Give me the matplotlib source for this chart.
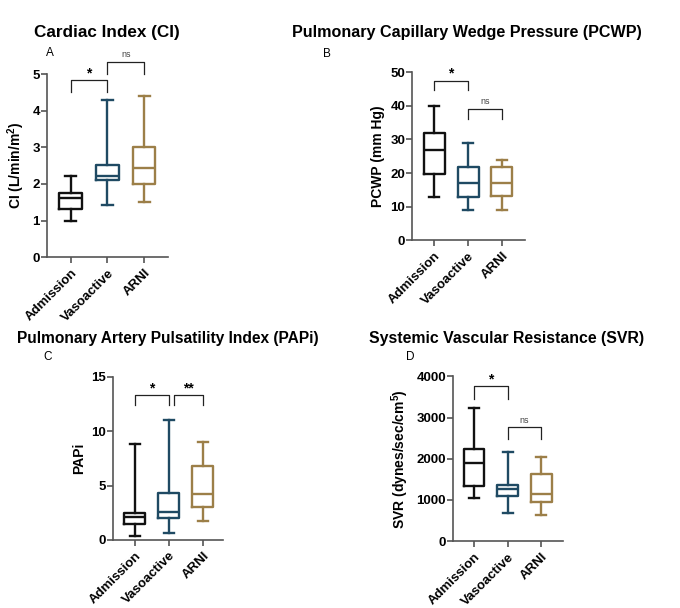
import matplotlib
matplotlib.use("Agg")
from matplotlib import pyplot as plt

plt.rcParams['font.family'] = ['Liberation Sans', 'DejaVu Sans']
plt.rcParams['font.weight'] = 'bold'
plt.rcParams['mathtext.fontset'] = 'custom'
plt.rcParams['mathtext.rm'] = 'Liberation Sans:bold'
plt.rcParams['mathtext.bf'] = 'Liberation Sans:bold'

groups = ["Admission", "Vasoactive", "ARNI"]
colors = ["#111111", "#1f4a63", "#9c7f48"]

# each list: [whisker low, q1, median, q3, whisker high] per group
ci_stats = [[1.0, 1.33, 1.61, 1.74, 2.22],
            [1.42, 2.1, 2.22, 2.51, 4.3],
            [1.5, 2.0, 2.44, 3.0, 4.4]]
pcwp_stats = [[13, 19.8, 27, 32, 40],
              [9, 13, 17, 21.8, 29],
              [9, 13.2, 17, 21.8, 24]]
papi_stats = [[0.37, 1.44, 2.08, 2.45, 8.85],
              [0.6, 2.05, 2.54, 4.35, 11.05],
              [1.78, 3.0, 4.22, 6.8, 9.0]]
svr_stats = [[1050, 1330, 1895, 2235, 3230],
             [690, 1085, 1270, 1360, 2155],
             [640, 940, 1135, 1620, 2040]]

# significance brackets: (x start, x end, top y, tick bottom y, label)
ci_sig = [(1, 2, 4.84, 4.5, "*"), (2, 3, 5.34, 5.0, "ns")]
pcwp_sig = [(1, 2, 47.5, 44.6, "*"), (2, 3, 39.1, 36.1, "ns")]
papi_sig = [(1, 2, 13.3, 12.4, "*"), (2.15, 3, 13.3, 12.4, "**")]
svr_sig = [(1, 2, 3765, 3457, "*"), (2, 3, 2761, 2470, "ns")]


def draw_panel(fig, rect, stats, sig, ylim, yticks, ylabel, xlim):
    ax = fig.add_axes(rect)
    for i, s in enumerate(stats):
        d = dict(whislo=s[0], q1=s[1], med=s[2], q3=s[3], whishi=s[4], fliers=[])
        c = colors[i]
        ax.bxp([d], positions=[i + 1], widths=0.62, showfliers=False,
               boxprops=dict(color=c, linewidth=1.7),
               medianprops=dict(color=c, linewidth=1.7),
               whiskerprops=dict(color=c, linewidth=1.7),
               capprops=dict(color=c, linewidth=1.7),
               capwidths=0.3)
    for a, b, top, bot, lab in sig:
        ax.plot([a, a, b, b], [bot, top, top, bot], color="#222222",
                linewidth=0.9, clip_on=False)
        if lab == "ns":
            ax.text((a + b) / 2, top + (ylim[1] - ylim[0]) * 0.015, lab,
                    ha="center", va="bottom", fontsize=6.5, fontweight="normal",
                    color="#444444")
        else:
            ax.text((a + b) / 2, top, lab, ha="center", va="bottom",
                    fontsize=10, fontweight="bold")
    ax.set_xlim(*xlim)
    ax.set_ylim(*ylim)
    ax.set_yticks(yticks)
    ax.set_xticks([1, 2, 3])
    ax.set_xticklabels(groups, rotation=45, ha="right", rotation_mode="anchor",
                       fontsize=9.5, fontweight="bold")
    ax.tick_params(axis="y", labelsize=9.5, length=4, width=1.2, color="#555555", pad=1)
    ax.tick_params(axis="x", length=4, width=1.2, color="#555555", pad=3)
    for lbl in ax.get_yticklabels():
        lbl.set_fontweight("bold")
    for sp in ["top", "right"]:
        ax.spines[sp].set_visible(False)
    for sp in ["left", "bottom"]:
        ax.spines[sp].set_linewidth(1.2)
        ax.spines[sp].set_color("#555555")
    ax.set_ylabel(ylabel, fontsize=10, fontweight="bold", labelpad=4)
    return ax


fig = plt.figure(figsize=(6.8, 6.08), dpi=100)

draw_panel(fig, [0.069, 0.577, 0.178, 0.301], ci_stats, ci_sig, (0, 5),
           [0, 1, 2, 3, 4, 5], r"CI (L/min/m$^{2}$)", (0.35, 3.65))
draw_panel(fig, [0.606, 0.605, 0.166, 0.276], pcwp_stats, pcwp_sig, (0, 50),
           [0, 10, 20, 30, 40, 50], "PCWP (mm Hg)", (0.35, 3.68))
draw_panel(fig, [0.166, 0.112, 0.162, 0.268], papi_stats, papi_sig, (0, 15),
           [0, 5, 10, 15], "PAPi", (0.35, 3.6))
draw_panel(fig, [0.666, 0.110, 0.162, 0.271], svr_stats, svr_sig, (0, 4000),
           [0, 1000, 2000, 3000, 4000], r"SVR (dynes/sec/cm$^{5}$)", (0.37, 3.65))

titles = [("Cardiac Index (CI)", 107, 32, 12.3),
          ("Pulmonary Capillary Wedge Pressure (PCWP)", 467, 33, 11.6),
          ("Pulmonary Artery Pulsatility Index (PAPi)", 168, 338, 11.2),
          ("Systemic Vascular Resistance (SVR)", 507, 338, 11.4)]
for t, x, y, fs in titles:
    fig.text(x / 680, 1 - y / 608, t, ha="center", va="center",
             fontsize=fs, fontweight="bold")

letters = [("A", 50, 53), ("B", 327, 54), ("C", 48, 357), ("D", 410, 357)]
for t, x, y in letters:
    fig.text(x / 680, 1 - y / 608, t, ha="center", va="center",
             fontsize=8.5, fontweight="normal")

fig.savefig("out.png", dpi=100)
